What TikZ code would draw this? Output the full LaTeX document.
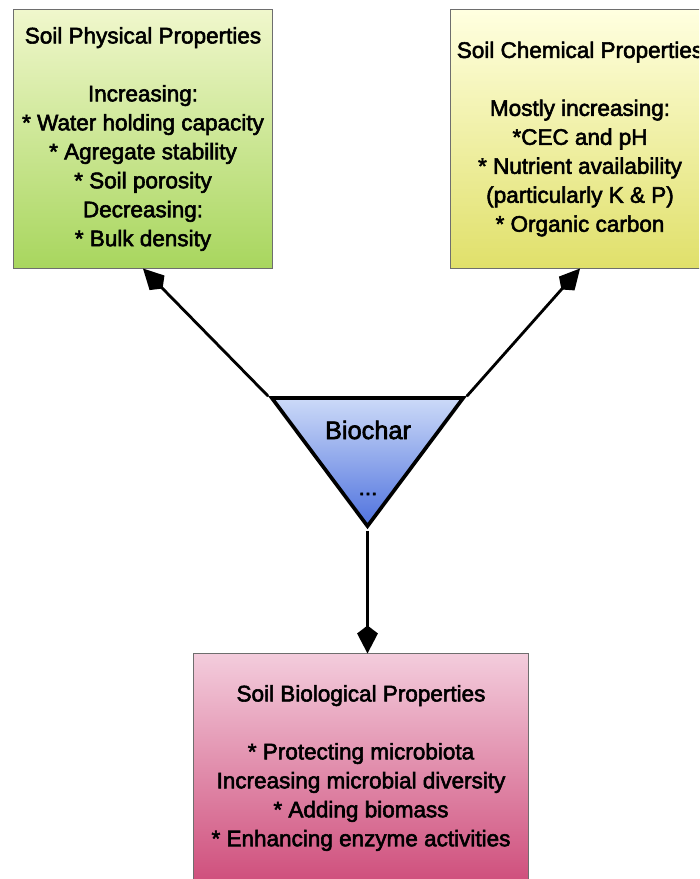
\documentclass[tikz,border=0pt]{standalone}
\usepackage{fontspec}
\setmainfont{Liberation Sans}[BoldFont={Liberation Sans},BoldFeatures={FakeBold=2.5}]
\usetikzlibrary{shapes.geometric,arrows.meta,positioning}
\definecolor{PhysTop}{HTML}{F0F7CC}
\definecolor{PhysBottom}{HTML}{A8D65E}
\definecolor{ChemTop}{HTML}{FFFFE0}
\definecolor{ChemBottom}{HTML}{E0E06A}
\definecolor{BioTop}{HTML}{F3CCDC}
\definecolor{BioBottom}{HTML}{CF4F7C}
\definecolor{CharTop}{HTML}{CCDAF8}
\definecolor{CharBottom}{HTML}{4F72DE}
\definecolor{BoxEdge}{HTML}{6E6E6E}
\tikzset{
    % Base property box
    propbox/.style={
        draw=BoxEdge,
        line width=0.7pt,
        minimum width=6.45cm,
        minimum height=6.45cm,
        inner sep=0pt,
        align=center,
        font=\fontsize{16}{20.6}\selectfont\bfseries
    },
    % Physical properties box
    physnode/.style={
        propbox,
        top color=PhysTop,
        bottom color=PhysBottom
    },
    % Chemical properties box
    chemnode/.style={
        propbox,
        top color=ChemTop,
        bottom color=ChemBottom
    },
    % Biological properties box
    bionode/.style={
        propbox,
        top color=BioTop,
        bottom color=BioBottom,
        minimum width=8.35cm,
        minimum height=5.7cm
    },
    % Biochar triangle
    charnode/.style={
        isosceles triangle,
        isosceles triangle stretches=true,
        shape border rotate=-90,
        draw=black,
        line width=2.6pt,
        top color=CharTop,
        bottom color=CharBottom,
        minimum width=4.78cm,
        minimum height=3.2cm,
        inner sep=0pt
    },
    % Arrow from biochar to a box
    linkarrow/.style={
        -{Kite[length=0.7cm,width=0.52cm,inset=0.2cm]},
        line width=2pt,
        draw=black
    }
}
\begin{document}
\begin{tikzpicture}[x=0.025cm,y=-0.025cm]
    \useasboundingbox (0,0) rectangle (699,879);
    \clip (0,0) rectangle (699,879);

    \node[physnode] (phys) at (143,139) {Soil Physical Properties\\[20.6pt]
        Increasing:\\ * Water holding capacity\\ * Agregate stability\\
        * Soil porosity\\ Decreasing:\\ * Bulk density};
    \node[chemnode] (chem) at (580,139) {Soil Chemical Properties\\[20.6pt]
        Mostly increasing:\\ *CEC and pH\\ * Nutrient availability\\
        (particularly K \& P)\\ * Organic carbon};
    \node[bionode] (bio) at (361,768) {Soil Biological Properties\\[20.6pt]
        * Protecting microbiota\\ Increasing microbial diversity\\
        * Adding biomass\\ * Enhancing enzyme activities};

    \node[charnode] (char) at (367.5,446) {};
    \node[font=\fontsize{18}{22}\selectfont\bfseries] (charlabel) at (368,430) {Biochar};
    \node[font=\fontsize{16}{20}\selectfont\bfseries] (chardots) at (368,494) {...};

    \draw[linkarrow] (char.right corner) -- (phys.south);
    \draw[linkarrow] (char.left corner) -- (chem.south);
    \draw[linkarrow] (char.apex) -- (char.apex |- bio.north);
\end{tikzpicture}
\end{document}
